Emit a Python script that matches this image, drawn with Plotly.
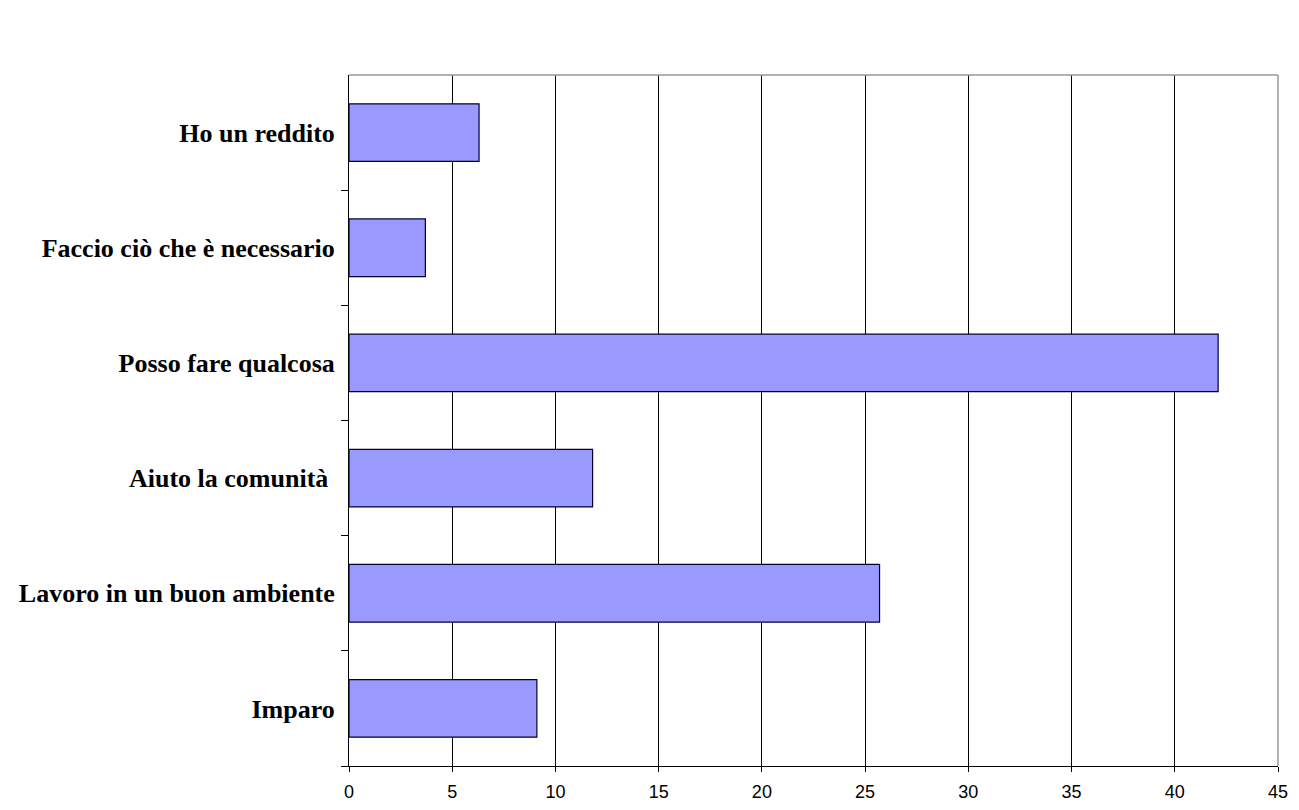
import plotly.graph_objects as go

# Categories, listed top to bottom
categories = [
    "Ho un reddito",
    "Faccio ciò che è necessario",
    "Posso fare qualcosa",
    "Aiuto la comunità\u00a0",
    "Lavoro in un buon ambiente",
    "Imparo",
]
values = [6.3, 3.7, 42.1, 11.8, 25.7, 9.1]
x_ticks = [0, 5, 10, 15, 20, 25, 30, 35, 40, 45]

fig = go.Figure(
    go.Bar(
        x=values,
        y=categories,
        orientation="h",
        marker=dict(color="#9999FF", line=dict(color="#000033", width=1.2)),
        width=0.5,
    )
)

fig.update_layout(
    width=1299,
    height=810,
    margin=dict(l=349, r=21, t=75, b=44),
    paper_bgcolor="white",
    plot_bgcolor="white",
    showlegend=False,
    xaxis=dict(
        range=[0, 45],
        tickvals=x_ticks,
        ticktext=[str(v) for v in x_ticks],
        showgrid=True,
        gridcolor="#000000",
        gridwidth=1,
        zeroline=False,
        showline=True,
        linecolor="#000000",
        linewidth=1,
        ticks="outside",
        ticklen=5,
        tickcolor="#000000",
        tickfont=dict(family="Liberation Sans, Arial", size=18, color="#000000"),
        ticklabelstandoff=4,
        automargin=False,
    ),
    yaxis=dict(
        categoryorder="array",
        categoryarray=categories[::-1],
        tickson="boundaries",
        ticks="outside",
        ticklen=7,
        tickcolor="#000000",
        showline=True,
        linecolor="#000000",
        linewidth=1,
        showgrid=False,
        tickfont=dict(family="Liberation Serif, Times New Roman", size=26, color="#000000"),
        ticklabelstandoff=8,
        range=[-0.5, 5.5],
        automargin=False,
    ),
    shapes=[
        # light frame on top and right of the plot area
        dict(type="line", xref="paper", yref="paper", x0=0, x1=1, y0=1, y1=1,
             line=dict(color="#999999", width=1.5)),
        dict(type="line", xref="paper", yref="paper", x0=1, x1=1, y0=0, y1=1,
             line=dict(color="#999999", width=1.5)),
    ],
)

# bold category labels
fig.update_yaxes(ticktext=[f"<b>{c}</b>" for c in categories], tickvals=categories)

fig.write_html("out.html")
